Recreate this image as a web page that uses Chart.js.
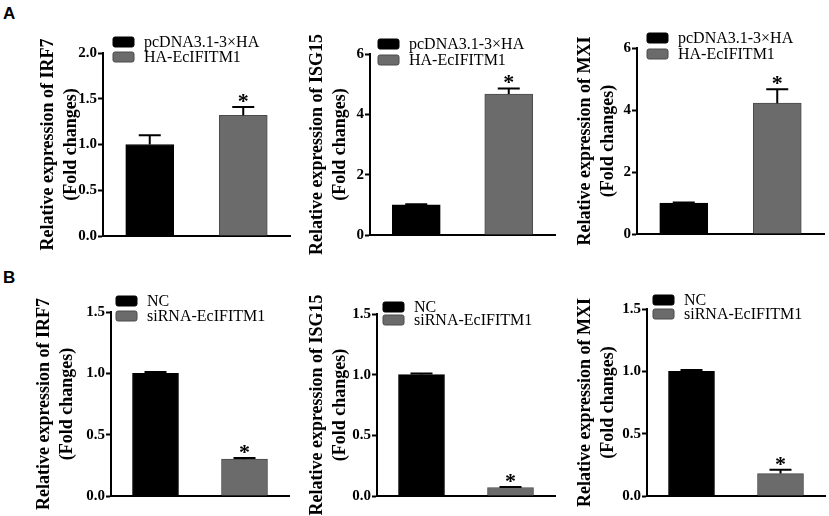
<!DOCTYPE html>
<html>
<head>
<meta charset="utf-8">
<script src="https://cdn.jsdelivr.net/npm/chart.js@4.4.1/dist/chart.umd.min.js"></script>
<style>
  html, body { margin: 0; padding: 0; background: #fff; }
  #fig { position: relative; width: 829px; height: 516px; overflow: hidden; background: #fff; }
  #fig canvas { position: absolute; }
  .tag { position: absolute; font: bold 17px "Liberation Sans", Arial, sans-serif; color: #000; }
</style>
</head>
<body>
<div id="fig">
  <div class="tag" style="left:3px; top:4px;">A</div>
  <div class="tag" style="left:3px; top:268px;">B</div>
</div>
<script>
// groups
const groupsA = ["pcDNA3.1-3×HA", "HA-EcIFITM1"];
const groupsB = ["NC", "siRNA-EcIFITM1"];
const marks = ["", "*"];

// A: overexpression (mean, upper error)
const irf7A = [1.00, 1.32];
const irf7AErr = [0.10, 0.09];
const isg15A = [1.00, 4.67];
const isg15AErr = [0.02, 0.19];
const mxiA = [1.00, 4.22];
const mxiAErr = [0.02, 0.45];

// B: knockdown
const irf7B = [1.00, 0.30];
const irf7BErr = [0.01, 0.01];
const isg15B = [1.00, 0.07];
const isg15BErr = [0.01, 0.005];
const mxiB = [1.00, 0.18];
const mxiBErr = [0.01, 0.03];

// y axis ticks
const yMaxA = [2.0, 6, 6];
const yStepA = [0.5, 2, 2];
const yMaxB = [1.5, 1.5, 1.5];
const yStepB = [0.5, 0.5, 0.5];

const barColors = ["#000000", "#6b6b6b"];
const barBorders = ["#000000", "#4a4a4a"];
const serif = '"Liberation Serif", "Times New Roman", serif';

// error bars + asterisks
const errorBars = {
  id: "errorBars",
  afterDatasetsDraw(chart, args, opts) {
    const ctx = chart.ctx;
    const meta = chart.getDatasetMeta(0);
    const ys = chart.scales.y;
    const vals = chart.data.datasets[0].data;
    meta.data.forEach((bar, i) => {
      const top = ys.getPixelForValue(vals[i] + opts.err[i]);
      ctx.save();
      ctx.strokeStyle = "#000";
      ctx.lineWidth = 2;
      ctx.beginPath();
      ctx.moveTo(bar.x, bar.y);
      ctx.lineTo(bar.x, top);
      ctx.moveTo(bar.x - 11, top);
      ctx.lineTo(bar.x + 11, top);
      ctx.stroke();
      if (opts.marks[i]) {
        ctx.fillStyle = "#000";
        ctx.font = "bold 22px " + serif;
        ctx.textAlign = "center";
        ctx.textBaseline = "alphabetic";
        ctx.fillText(opts.marks[i], bar.x, top + 1);
      }
      ctx.restore();
    });
  }
};

// legend drawn inside the top-left of the plot
const boxLegend = {
  id: "boxLegend",
  afterDraw(chart, args, opts) {
    const ctx = chart.ctx;
    const area = chart.chartArea;
    const ds = chart.data.datasets[0];
    chart.data.labels.forEach((lab, i) => {
      const x = area.left + opts.dx;
      const y = area.top + opts.dy + i * opts.gap;
      ctx.save();
      ctx.fillStyle = ds.backgroundColor[i];
      ctx.strokeStyle = ds.borderColor[i];
      ctx.lineWidth = 1;
      ctx.beginPath();
      ctx.roundRect(x, y, 21, 10, 2);
      ctx.fill();
      ctx.stroke();
      ctx.fillStyle = "#000";
      ctx.font = "16px " + serif;
      ctx.textBaseline = "middle";
      ctx.textAlign = "left";
      ctx.fillText(lab, x + 31, y + 5.5);
      ctx.restore();
    });
  }
};

function makePanel(p) {
  const fig = document.getElementById("fig");
  const cv = document.createElement("canvas");
  const [x, y, w, h] = p.box;
  cv.width = w; cv.height = h;
  cv.style.left = x + "px"; cv.style.top = y + "px";
  cv.style.width = w + "px"; cv.style.height = h + "px";
  fig.appendChild(cv);
  const lh = 23;
  new Chart(cv, {
    type: "bar",
    data: {
      labels: p.labels,
      datasets: [{
        data: p.values,
        backgroundColor: barColors,
        borderColor: barBorders,
        borderWidth: 1,
        barThickness: p.bar
      }]
    },
    options: {
      responsive: false,
      animation: false,
      events: [],
      layout: { padding: { left: 0, top: p.plot.t - y, bottom: y + h - p.plot.b, right: x + w - p.plot.r } },
      plugins: {
        legend: { display: false },
        tooltip: { enabled: false },
        errorBars: { err: p.err, marks: marks },
        boxLegend: p.legend
      },
      scales: {
        x: {
          type: "category",
          ticks: { display: false },
          grid: { display: false },
          border: { display: true, color: "#000", width: 2 },
          afterFit: s => { s.height = 0; }
        },
        y: {
          min: 0,
          max: p.max,
          ticks: {
            stepSize: p.step,
            color: "#000",
            padding: 1,
            font: { family: serif, size: 15, weight: "bold" },
            callback: v => v.toFixed(p.dec)
          },
          grid: { drawOnChartArea: false, drawTicks: true, tickLength: 5, tickWidth: 2, tickColor: "#000" },
          border: { display: true, color: "#000", width: 2 },
          title: {
            display: true,
            text: ["Relative expression of " + p.gene, "(Fold changes)"],
            color: "#000",
            font: { family: serif, size: 18, weight: "bold", lineHeight: lh / 18 },
            padding: { top: p.titleX - x - lh / 2, bottom: 0 }
          },
          afterFit: s => { s.width = p.plot.l - x; }
        }
      }
    },
    plugins: [errorBars, boxLegend]
  });
}

const panels = [
  { gene: "IRF7", labels: groupsA, values: irf7A, err: irf7AErr, max: yMaxA[0], step: yStepA[0], dec: 1,
    box: [0, 0, 300, 256], plot: { l: 103, t: 53, b: 236, r: 290 }, titleX: 48, bar: 48,
    legend: { dx: 10, dy: -16, gap: 15 } },
  { gene: "ISG15", labels: groupsA, values: isg15A, err: isg15AErr, max: yMaxA[1], step: yStepA[1], dec: 0,
    box: [292, 0, 268, 256], plot: { l: 370, t: 54, b: 235, r: 555 }, titleX: 317, bar: 48,
    legend: { dx: 8, dy: -15, gap: 16 } },
  { gene: "MXI", labels: groupsA, values: mxiA, err: mxiAErr, max: yMaxA[2], step: yStepA[2], dec: 0,
    box: [560, 0, 269, 256], plot: { l: 637, t: 48, b: 234, r: 824 }, titleX: 585, bar: 48,
    legend: { dx: 10, dy: -15, gap: 16 } },
  { gene: "IRF7", labels: groupsB, values: irf7B, err: irf7BErr, max: yMaxB[0], step: yStepB[0], dec: 1,
    box: [0, 258, 292, 258], plot: { l: 111, t: 312, b: 496, r: 289 }, titleX: 44, bar: 46,
    legend: { dx: 5, dy: -16, gap: 15 } },
  { gene: "ISG15", labels: groupsB, values: isg15B, err: isg15BErr, max: yMaxB[1], step: yStepB[1], dec: 1,
    box: [292, 258, 268, 258], plot: { l: 377, t: 314, b: 496, r: 555 }, titleX: 317, bar: 46,
    legend: { dx: 6, dy: -12, gap: 13 } },
  { gene: "MXI", labels: groupsB, values: mxiB, err: mxiBErr, max: yMaxB[2], step: yStepB[2], dec: 1,
    box: [560, 258, 269, 258], plot: { l: 647, t: 309, b: 496, r: 825 }, titleX: 585, bar: 46,
    legend: { dx: 6, dy: -14, gap: 14 } }
];

panels.forEach(makePanel);
</script>
</body>
</html>
